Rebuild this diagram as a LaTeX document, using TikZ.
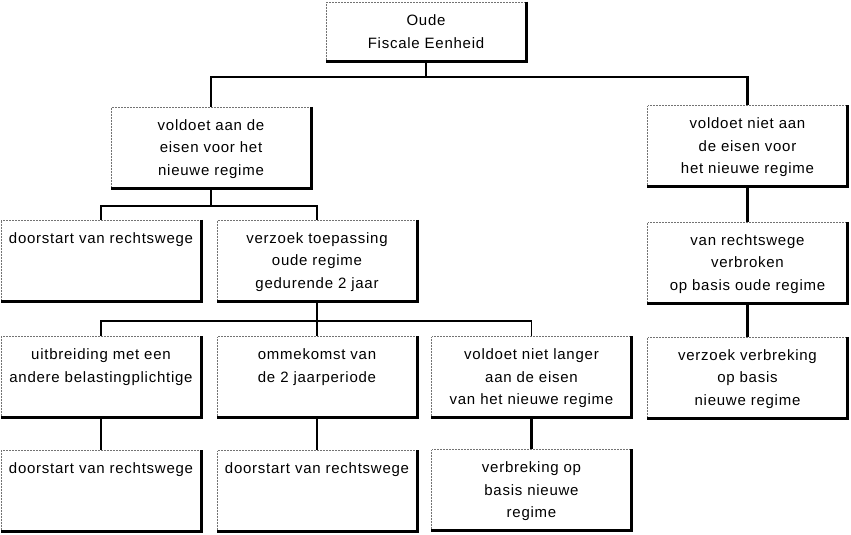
\documentclass[tikz,border=0pt]{standalone}
\usepackage{fontspec}
\setmainfont{Liberation Sans}[LetterSpace=5]
\usetikzlibrary{positioning}

% text of a box, set from the top
\newcommand{\boxtext}[1]{\parbox[c][66pt][t]{194pt}{\centering\strut #1}}

\begin{document}
\begin{tikzpicture}[
  x=1pt, y=-1pt,
  font=\fontsize{15}{22.5}\selectfont,
  box/.style={
    draw=black!55, densely dotted, line width=0.5pt,
    minimum width=200pt, minimum height=81pt,
    inner xsep=3pt, inner ysep=7.5pt,
    fill=white
  },
  topbox/.style={box, minimum height=59pt, align=center},
  boxrim/.style={line width=3pt, black},
  link/.style={line width=2.4pt},
  thinlink/.style={line width=1.2pt},
]
\useasboundingbox (0,0) rectangle (851,535);

% Top of the tree.
\node[topbox] (oude) at (426,31.5) {Oude\\Fiscale Eenheid};

% Second level.
\node[box] (links) at (211,147.5) {\boxtext{voldoet aan de\\eisen voor het\\nieuwe regime}};
\node[box] (rechts) at (747.5,146) {\boxtext{voldoet niet aan\\de eisen voor\\het nieuwe regime}};

% Third level.
\node[box] (doorstarta) at (101,260.5) {\boxtext{doorstart van rechtswege}};
\node[box] (verzoek) at (317,260.5) {\boxtext{verzoek toepassing\\oude regime\\gedurende 2 jaar}};
\node[box] (verbroken) at (747.5,262.5) {\boxtext{van rechtswege\\verbroken\\op basis oude regime}};

% Fourth level.
\node[box] (uitbreiding) at (101,377) {\boxtext{uitbreiding met een\\andere belastingplichtige}};
\node[box] (ommekomst) at (317,377) {\boxtext{ommekomst van\\de 2 jaarperiode}};
\node[box] (nietlanger) at (531.5,377) {\boxtext{voldoet niet langer\\aan de eisen\\van het nieuwe regime}};
\node[box] (verzoekverbr) at (747.5,377.5) {\boxtext{verzoek verbreking\\op basis\\nieuwe regime}};

% Bottom level.
\node[box] (doorstartb) at (101,491) {\boxtext{doorstart van rechtswege}};
\node[box] (doorstartc) at (317,491) {\boxtext{doorstart van rechtswege}};
\node[box] (verbreking) at (531.5,490) {\boxtext{verbreking op\\basis nieuwe\\regime}};

% Heavy right and bottom edges of every box.
\foreach \b in {oude,links,rechts,doorstarta,verzoek,verbroken,uitbreiding,
  ommekomst,nietlanger,verzoekverbr,doorstartb,doorstartc,verbreking}
  \draw[boxrim] (\b.north east) -- (\b.south east) -- (\b.south west);

% Bars of the tree.
\coordinate (bara) at (426,77);
\coordinate (barb) at (211,206);
\coordinate (barc) at (317,321);

\draw[thinlink] (oude.south) -- (bara);
\draw[link] (links.north) |- (bara) -| (rechts.north);

\draw[link] (links.south) -- (barb);
\draw[link] (doorstarta.north) |- (barb) -| (verzoek.north);

\draw[thinlink] (verzoek.south) -- (barc);
\draw[link] (uitbreiding.north) |- (barc -| nietlanger.north);
\draw[link] (barc) -- (ommekomst.north);
\draw[thinlink] (barc -| nietlanger.north) -- (nietlanger.north);

\draw[link] (uitbreiding) -- (doorstartb);
\draw[thinlink] (ommekomst) -- (doorstartc);
\draw[link] (nietlanger) -- (verbreking);

\draw[link] (rechts) -- (verbroken);
\draw[link] (verbroken) -- (verzoekverbr);

\end{tikzpicture}
\end{document}
